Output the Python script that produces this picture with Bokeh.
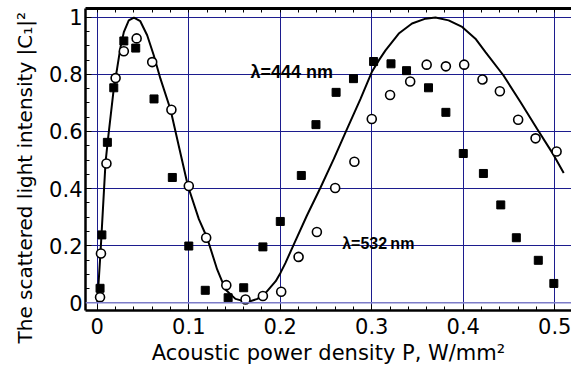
from bokeh.core.properties import value
from bokeh.embed import file_html
from bokeh.models import FixedTicker, LinearAxis, Range1d, Span, Title
from bokeh.plotting import figure
from bokeh.resources import INLINE

# Measured first-order intensity, lambda = 444 nm (filled squares)
p444 = [0.003, 0.005, 0.011, 0.018, 0.029, 0.042, 0.062, 0.082, 0.100, 0.118,
        0.143, 0.160, 0.181, 0.200, 0.223, 0.239, 0.261, 0.280, 0.302, 0.321,
        0.338, 0.362, 0.381, 0.400, 0.422, 0.441, 0.458, 0.482, 0.499]
c444 = [0.051, 0.238, 0.562, 0.753, 0.917, 0.892, 0.714, 0.439, 0.199, 0.044,
        0.018, 0.053, 0.196, 0.285, 0.446, 0.624, 0.737, 0.785, 0.845, 0.837,
        0.813, 0.753, 0.667, 0.523, 0.453, 0.343, 0.228, 0.149, 0.068]

# Measured first-order intensity, lambda = 532 nm (open circles)
p532 = [0.003, 0.004, 0.010, 0.020, 0.029, 0.043, 0.060, 0.081, 0.100, 0.119,
        0.141, 0.162, 0.181, 0.201, 0.220, 0.240, 0.260, 0.281, 0.300, 0.320,
        0.342, 0.360, 0.381, 0.401, 0.421, 0.440, 0.460, 0.479, 0.502]
c532 = [0.020, 0.173, 0.488, 0.787, 0.881, 0.926, 0.843, 0.676, 0.409, 0.228,
        0.062, 0.012, 0.024, 0.039, 0.161, 0.248, 0.402, 0.494, 0.644, 0.728,
        0.775, 0.834, 0.828, 0.834, 0.782, 0.741, 0.641, 0.576, 0.530]

# Theoretical curve
p_theory = [0.000, 0.0035, 0.009, 0.0115, 0.018, 0.020, 0.0254, 0.029, 0.0344,
            0.040, 0.047, 0.0545, 0.0617, 0.069, 0.080, 0.089, 0.099, 0.111,
            0.120, 0.131, 0.140, 0.151, 0.164, 0.175, 0.184, 0.195, 0.2002,
            0.2057, 0.2148, 0.229, 0.244, 0.2585, 0.273, 0.2877, 0.300, 0.3077,
            0.315, 0.3295, 0.344, 0.3587, 0.3696, 0.384, 0.3988, 0.4133, 0.4243,
            0.444, 0.4625, 0.4808, 0.497, 0.5098]
c_theory = [0.000, 0.176, 0.492, 0.568, 0.750, 0.787, 0.896, 0.948, 0.989,
            0.999, 0.986, 0.937, 0.867, 0.785, 0.677, 0.550, 0.410, 0.293,
            0.228, 0.117, 0.047, 0.014, 0.0025, 0.014, 0.035, 0.076, 0.105,
            0.140, 0.205, 0.305, 0.404, 0.504, 0.609, 0.714, 0.808, 0.849,
            0.884, 0.943, 0.978, 0.995, 0.999, 0.989, 0.966, 0.925, 0.878,
            0.796, 0.703, 0.609, 0.527, 0.455]

x_ticks = [0, 0.1, 0.2, 0.3, 0.4, 0.5]
x_tick_labels = ["0", "0.1", "0.2", "0.3", "0.4", "0.5"]
x_minor = [i * 0.02 for i in range(27)]
y_ticks = [0, 0.2, 0.4, 0.6, 0.8, 1.0]
y_tick_labels = ["0", "0.2", "0.4", "0.6", "0.8", "1"]
y_minor = [i * 0.05 for i in range(21)]

GRID = "#1c1c8e"
TICK_FONT = "DejaVu Sans"

p = figure(width=571, height=373, output_backend="svg", toolbar_location=None,
           x_range=Range1d(-0.0129, 0.5183), y_range=Range1d(-0.0267, 1.0306),
           min_border_left=85, min_border_right=0, min_border_top=8,
           min_border_bottom=63, outline_line_color=None,
           background_fill_color="white", border_fill_color="white")

# grid
p.xgrid.ticker = FixedTicker(ticks=x_ticks)
p.ygrid.ticker = FixedTicker(ticks=y_ticks[1:])
for g in (p.xgrid[0], p.ygrid[0]):
    g.grid_line_color = GRID
    g.grid_line_width = 1
p.add_layout(Span(location=0, dimension="width", line_color="#7c7cc8", line_width=1.5))


def style_axis(ax):
    ax.axis_line_width = 2.5
    ax.axis_line_color = "black"
    ax.major_tick_in = 6
    ax.major_tick_out = 0
    ax.minor_tick_in = 4
    ax.minor_tick_out = 0
    ax.major_tick_line_color = "black"
    ax.minor_tick_line_color = "black"
    ax.major_label_text_font = TICK_FONT
    ax.major_label_text_font_size = "21px"
    ax.major_label_text_color = "black"


xa = p.xaxis[0]
xa.ticker = FixedTicker(ticks=x_ticks, minor_ticks=x_minor)
xa.major_label_overrides = dict(zip(x_ticks, x_tick_labels))
style_axis(xa)
xa.major_label_standoff = 7
xa.axis_label = "Acoustic power density P, W/mm\u00b2"
xa.axis_label_text_font = TICK_FONT
xa.axis_label_text_font_size = "21px"
xa.axis_label_text_font_style = "normal"
xa.axis_label_text_color = "black"
xa.axis_label_standoff = 4

ya = p.yaxis[0]
ya.ticker = FixedTicker(ticks=y_ticks, minor_ticks=y_minor)
ya.major_label_overrides = dict(zip(y_ticks, y_tick_labels))
style_axis(ya)
ya.major_label_standoff = 3

# y title as a side title, starting a little below the frame bottom
p.add_layout(Title(text="The scattered light intensity |C\u2081|\u00b2",
                   align="left", offset=-33, standoff=19,
                   text_font=TICK_FONT, text_font_size="20px",
                   text_font_style="normal", text_color="black"), "left")

# top frame edge: an unlabeled axis carrying only the minor ticks
top = LinearAxis(ticker=FixedTicker(ticks=[], minor_ticks=x_minor))
style_axis(top)
top.axis_line_width = 3
top.major_label_standoff = 0
p.add_layout(top, "above")

# data
p.line(p_theory, c_theory, line_color="black", line_width=2)
p.scatter(p444, c444, marker="square", size=8, fill_color="black",
          line_color="black")
p.scatter(p532, c532, marker="circle", size=9, fill_color="white",
          line_color="black", line_width=1.6)

p.text(x=[0.1674], y=[0.810], text=["\u03bb=444 nm"], text_font=value("Liberation Sans"),
       text_font_size="18px", text_font_style="bold", text_baseline="alphabetic",
       text_color="black")
p.text(x=[0.2677], y=[0.207], text=["\u03bb=532\u2009nm"], text_font=value("Liberation Sans"),
       text_font_size="16px", text_font_style="bold", text_baseline="alphabetic",
       text_color="black")

open("out.html", "w").write(file_html(p, INLINE))
